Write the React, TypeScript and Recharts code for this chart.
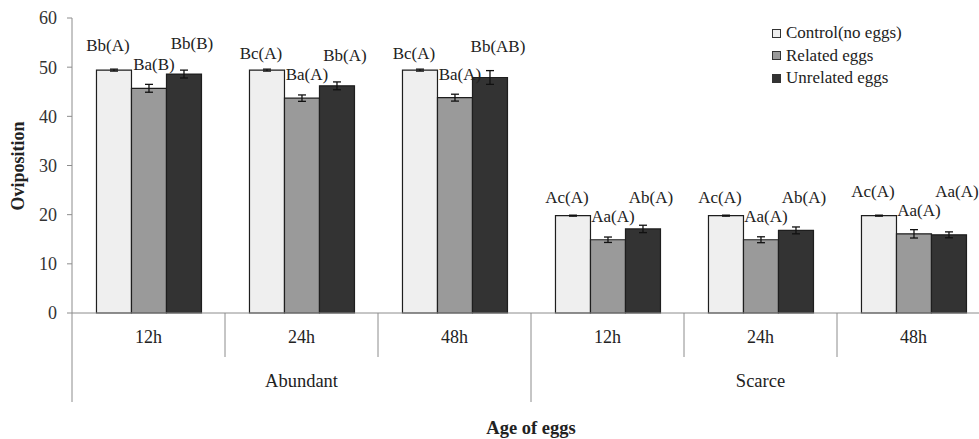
import { BarChart, Bar, XAxis, YAxis, ErrorBar, LabelList, Legend } from "recharts";

// categories
const resources = ["Abundant", "Abundant", "Abundant", "Scarce", "Scarce", "Scarce"];
const ages = ["12h", "24h", "48h", "12h", "24h", "48h"];
const seriesNames = ["Control(no eggs)", "Related eggs", "Unrelated eggs"];
const yTicks = [0, 10, 20, 30, 40, 50, 60];

// values
const control = [49.4, 49.4, 49.4, 19.8, 19.8, 19.8];
const controlErr = [0.2, 0.2, 0.2, 0.1, 0.1, 0.1];
const related = [45.7, 43.7, 43.8, 14.9, 14.9, 16.1];
const relatedErr = [0.8, 0.65, 0.7, 0.55, 0.6, 0.85];
const unrelated = [48.6, 46.2, 47.9, 17.1, 16.8, 15.9];
const unrelatedErr = [0.8, 0.8, 1.4, 0.75, 0.7, 0.6];

// significance letters
const controlLabels = ["Bb(A)", "Bc(A)", "Bc(A)", "Ac(A)", "Ac(A)", "Ac(A)"];
const relatedLabels = ["Ba(B)", "Ba(A)", "Ba(A)", "Aa(A)", "Aa(A)", "Aa(A)"];
const unrelatedLabels = ["Bb(B)", "Bb(A)", "Bb(AB)", "Ab(A)", "Ab(A)", "Aa(A)"];

const FONT = "Liberation Serif";
const AXIS = "#8c8c8c";
const COLORS = ["#efefef", "#9a9a9a", "#333333"];

const CHART_W = 1000;
const CHART_H = 439;
const MARGIN = { top: 18, right: 10, left: 0, bottom: 0 };
const Y_W = 72;
const X_H = 126;
const BAND = (CHART_W - Y_W - MARGIN.left - MARGIN.right) / ages.length;

const data = ages.map((age, i) => ({
  age,
  resource: resources[i],
  control: control[i],
  controlErr: controlErr[i],
  controlLabel: controlLabels[i],
  related: related[i],
  relatedErr: relatedErr[i],
  relatedLabel: relatedLabels[i],
  unrelated: unrelated[i],
  unrelatedErr: unrelatedErr[i],
  unrelatedLabel: unrelatedLabels[i],
}));

// label placement: related letters sit just above their bar, the
// neighbours go up far enough that they don't run into it
const LIFT = [15, 22, 29];
const SHIFT = [-6, 5, 8];
const GAP = 19;
const seriesValues = [control, related, unrelated];

const makeLabel = (s: number) => (props: any) => {
  const { x, y, width, height, index, value } = props;
  if (x == null || y == null) return null;
  const k = height / seriesValues[s][index]; // px per unit, from the bar itself
  const base = y + height;
  const relY = base - related[index] * k - LIFT[1];
  let ty = y - LIFT[s];
  if (s !== 1) ty = Math.min(ty, relY - GAP);
  return (
    <text
      x={x + width / 2 + SHIFT[s]}
      y={ty}
      textAnchor="middle"
      dominantBaseline="middle"
      fontSize={17}
      style={{ fontFamily: FONT }}
      fill="#222"
    >
      {value}
    </text>
  );
};

// two-level category axis: age on top, resource below, with separators
const AgeTick = (props: any) => {
  const { x, y, index, payload } = props;
  const left = x - BAND / 2;
  const res = resources[index];
  const first = index === 0 || resources[index - 1] !== res;
  let groupLabel = null;
  if (first) {
    let n = 0;
    while (resources[index + n] === res) n++;
    groupLabel = (
      <text
        x={left + (n * BAND) / 2}
        y={y + 70}
        textAnchor="middle"
        dominantBaseline="middle"
        fontSize={18.5}
        style={{ fontFamily: FONT }}
        fill="#222"
      >
        {res}
      </text>
    );
  }
  return (
    <g>
      <line x1={left} x2={left} y1={y} y2={y + (first ? 89 : 44)} stroke={AXIS} strokeWidth={1} />
      {index === resources.length - 1 && (
        <line x1={left + BAND} x2={left + BAND} y1={y} y2={y + 89} stroke={AXIS} strokeWidth={1} />
      )}
      <text
        x={x}
        y={y + 26}
        textAnchor="middle"
        dominantBaseline="middle"
        fontSize={18}
        style={{ fontFamily: FONT }}
        fill="#222"
      >
        {payload.value}
      </text>
      {groupLabel}
    </g>
  );
};

const LegendContent = () => (
  <div style={{ fontFamily: FONT, fontSize: 17, color: "#222" }}>
    {seriesNames.map((name, i) => (
      <div key={name} style={{ display: "flex", alignItems: "center", height: 22.5, whiteSpace: "nowrap" }}>
        <span
          style={{
            display: "inline-block",
            width: 7,
            height: 7,
            border: "1px solid #333",
            background: COLORS[i],
            marginRight: 5,
          }}
        />
        <span>{name}</span>
      </div>
    ))}
  </div>
);

export default function App() {
  return (
    <div
      style={{
        position: "absolute",
        left: 0,
        top: 0,
        width: 979,
        height: 439,
        overflow: "hidden",
        background: "#fff",
        fontFamily: FONT,
      }}
    >
      <BarChart
        width={CHART_W}
        height={CHART_H}
        data={data}
        margin={MARGIN}
        barCategoryGap="16%"
        barGap={0}
        style={{ fontFamily: FONT }}
      >
        <XAxis
          dataKey="age"
          height={X_H}
          interval={0}
          stroke={AXIS}
          tickLine={false}
          tickSize={0}
          tickMargin={0}
          tick={<AgeTick />}
          label={(p: any) => {
            const vb = p.viewBox;
            return (
              <text
                x={vb.x + vb.width / 2}
                y={vb.y + vb.height - 9}
                textAnchor="middle"
                dominantBaseline="middle"
                fontSize={18.5}
                fontWeight="bold"
                style={{ fontFamily: FONT }}
                fill="#222"
              >
                Age of eggs
              </text>
            );
          }}
        />
        <YAxis
          width={Y_W}
          domain={[0, 60]}
          ticks={yTicks}
          interval={0}
          stroke={AXIS}
          tickSize={5}
          tickMargin={10}
          tick={{ fontSize: 18, fill: "#333", style: { fontFamily: FONT } }}
          label={() => (
            <text
              transform="translate(20,166) rotate(-90)"
              textAnchor="middle"
              dominantBaseline="middle"
              fontSize={18}
              fontWeight="bold"
              style={{ fontFamily: FONT }}
              fill="#222"
            >
              Oviposition
            </text>
          )}
        />
        <Legend
          layout="horizontal"
          verticalAlign="middle"
          align="center"
          wrapperStyle={{ top: 22, left: 772, width: 210 }}
          content={<LegendContent />}
        />
        <Bar dataKey="control" name={seriesNames[0]} fill={COLORS[0]} stroke="#1e1e1e" strokeWidth={1.2} isAnimationActive={false}>
          <ErrorBar dataKey="controlErr" width={4} stroke="#111" strokeWidth={1.3} />
          <LabelList dataKey="controlLabel" content={makeLabel(0)} />
        </Bar>
        <Bar dataKey="related" name={seriesNames[1]} fill={COLORS[1]} stroke="#1e1e1e" strokeWidth={1.2} isAnimationActive={false}>
          <ErrorBar dataKey="relatedErr" width={4} stroke="#111" strokeWidth={1.3} />
          <LabelList dataKey="relatedLabel" content={makeLabel(1)} />
        </Bar>
        <Bar dataKey="unrelated" name={seriesNames[2]} fill={COLORS[2]} stroke="#1e1e1e" strokeWidth={1.2} isAnimationActive={false}>
          <ErrorBar dataKey="unrelatedErr" width={4} stroke="#111" strokeWidth={1.3} />
          <LabelList dataKey="unrelatedLabel" content={makeLabel(2)} />
        </Bar>
      </BarChart>
    </div>
  );
}
